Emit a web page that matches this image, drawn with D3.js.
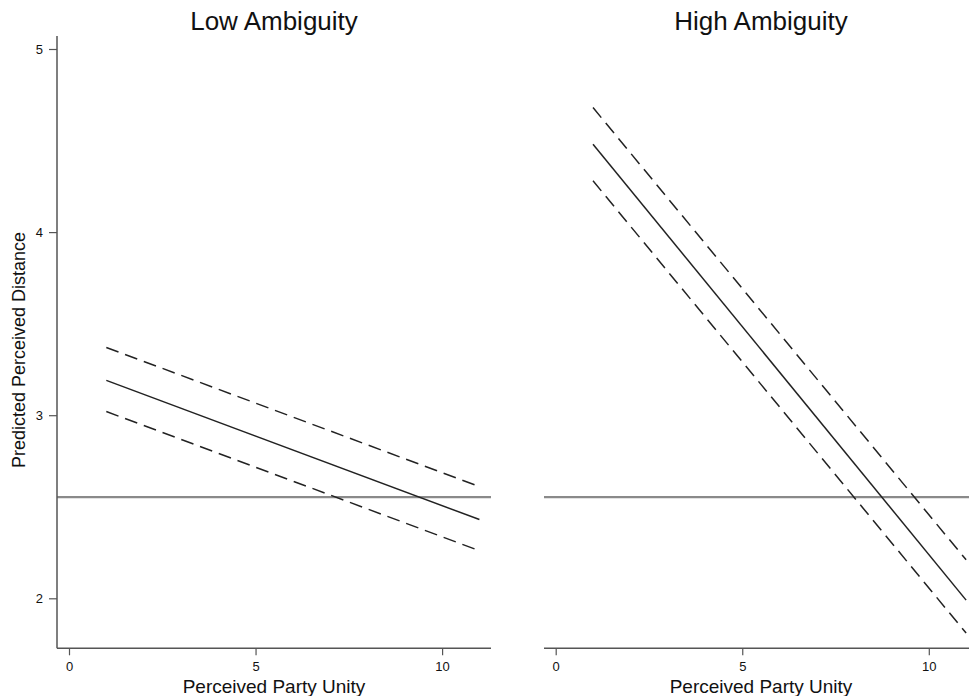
<!DOCTYPE html>
<html>
<head>
<meta charset="utf-8">
<script src="https://cdn.jsdelivr.net/npm/d3@7"></script>
<style>
  body { margin: 0; background: #fff; }
  text { font-family: "Liberation Sans", Arial, sans-serif; fill: #111; }
</style>
</head>
<body>
<div id="chart"></div>
<script>
// panel titles
const panelNames = ["Low Ambiguity", "High Ambiguity"]
// x positions of the fitted lines (perceived party unity)
const unityX = [1, 11]
// predicted values and 95% bounds
const lowFit = [3.19, 2.43]
const lowUpper = [3.37, 2.61]
const lowLower = [3.02, 2.26]
const highFit = [4.48, 1.99]
const highUpper = [4.68, 2.21]
const highLower = [4.28, 1.81]
// horizontal reference line
const refValue = 2.553
const xTicks = [0, 5, 10]
const yTicks = [2, 3, 4, 5]

const width = 969, height = 696
const svg = d3.select("#chart").append("svg")
    .attr("width", width)
    .attr("height", height)

var y = d3.scaleLinear().domain([2, 5]).range([598.3, 49])
const axisY = 648.3

const panels = [
    { name: panelNames[0], left: 57, right: 491, x0: 69, fit: lowFit, upper: lowUpper, lower: lowLower, yAxis: true },
    { name: panelNames[1], left: 544, right: 980, x0: 555.7, fit: highFit, upper: highUpper, lower: highLower, yAxis: false }
]

for (const p of panels) {
    var x = d3.scaleLinear().domain([0, 10]).range([p.x0, p.x0 + 373.1])
    const g = svg.append("g")

    // reference line
    g.append("line")
        .attr("x1", p.left).attr("x2", p.right)
        .attr("y1", y(refValue)).attr("y2", y(refValue))
        .attr("stroke", "#8a8a8a")
        .attr("stroke-width", 2.2)

    // fitted line and bounds
    const line = d3.line()
        .x((d, i) => x(unityX[i]))
        .y(d => y(d))
    const series = [
        { vals: p.fit, dash: null },
        { vals: p.upper, dash: "13,7" },
        { vals: p.lower, dash: "13,7" }
    ]
    g.selectAll("path.fit")
        .data(series)
        .join("path")
        .attr("class", "fit")
        .attr("d", d => line(d.vals))
        .attr("fill", "none")
        .attr("stroke", "#222")
        .attr("stroke-width", 1.5)
        .attr("stroke-dasharray", d => d.dash)

    // x axis
    const xAxis = g.append("g")
        .attr("transform", "translate(0," + axisY + ")")
        .call(d3.axisBottom(x).tickValues(xTicks).tickFormat(d3.format("d")).tickSize(7).tickPadding(6))
    xAxis.select(".domain").remove()
    xAxis.append("line")
        .attr("x1", p.left).attr("x2", p.right)
        .attr("stroke", "#555").attr("stroke-width", 1.5)
    xAxis.selectAll(".tick line").attr("stroke", "#555").attr("stroke-width", 1.2)
    xAxis.selectAll(".tick text")
        .style("font-family", "Liberation Sans, Arial, sans-serif")
        .style("font-size", "13px")
        .attr("fill", "#111")

    // y axis only on the first panel
    if (p.yAxis) {
        const yAxis = g.append("g")
            .attr("transform", "translate(" + p.left + ",0)")
            .call(d3.axisLeft(y).tickValues(yTicks).tickFormat(d3.format("d")).tickSize(8).tickPadding(6))
        yAxis.select(".domain").remove()
        yAxis.append("line")
            .attr("y1", 36).attr("y2", axisY)
            .attr("stroke", "#555").attr("stroke-width", 1.5)
        yAxis.selectAll(".tick line").attr("stroke", "#555").attr("stroke-width", 1.2)
        yAxis.selectAll(".tick text")
            .style("font-family", "Liberation Sans, Arial, sans-serif")
            .style("font-size", "13px")
            .attr("fill", "#111")
    }

    // panel title
    const mid = (p.left + Math.min(p.right, 978)) / 2
    g.append("text")
        .attr("x", mid)
        .attr("y", 30)
        .attr("text-anchor", "middle")
        .style("font-size", "26px")
        .text(p.name)

    // x label
    g.append("text")
        .attr("x", mid)
        .attr("y", 693)
        .attr("text-anchor", "middle")
        .style("font-size", "19px")
        .text("Perceived Party Unity")
}

svg.append("text")
    .attr("transform", "translate(25,350) rotate(-90)")
    .attr("text-anchor", "middle")
    .style("font-size", "18px")
    .text("Predicted Perceived Distance")
</script>
</body>
</html>
